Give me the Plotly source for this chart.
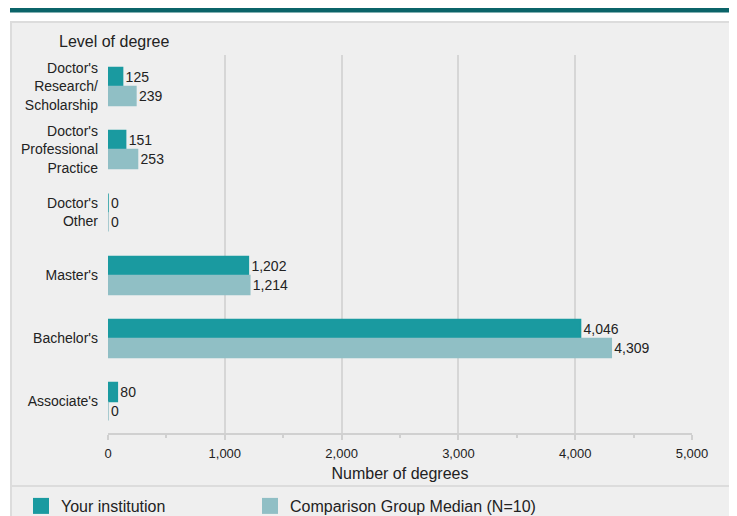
import plotly.graph_objects as go

categories = ["Doctor's<br>Research/<br>Scholarship", "Doctor's<br>Professional<br>Practice",
              "Doctor's<br>Other", "Master's", "Bachelor's", "Associate's"]
your_institution = [125, 151, 0, 1202, 4046, 80]
comparison_median = [239, 253, 0, 1214, 4309, 0]
series_names = ["Your institution", "Comparison Group Median (N=10)"]
x_ticks = [0, 1000, 2000, 3000, 4000, 5000]

teal = "#1a9aa0"
light = "#90bfc5"
font = "Liberation Sans, Arial, sans-serif"

# page has an 8px body margin; figure coordinates = screen - 8
OFF = 8
W, H = 729, 508
L, T = 108 - OFF, 55 - OFF
PLOT_W, PLOT_BOTTOM = 584, 433 - OFF
R = W - L - PLOT_W
B = H - PLOT_BOTTOM
plot_h = PLOT_BOTTOM - T

def px(xs):
    return (xs - OFF - L) / PLOT_W

def py(ys):
    return (PLOT_BOTTOM - (ys - OFF)) / plot_h

fig = go.Figure()
for name, vals, col, leg in [(series_names[0], your_institution, teal, "legend"),
                             (series_names[1], comparison_median, light, "legend2")]:
    fig.add_trace(go.Bar(
        y=categories, x=vals, orientation="h", name=name, showlegend=False,
        marker=dict(color=col, line=dict(width=1.5, color=col)),
        text=[f"{v:,}" for v in vals], textposition="outside",
        textfont=dict(size=14, color="#222", family=font),
        cliponaxis=False,
    ))
    # legend entry with a larger square swatch
    fig.add_trace(go.Scatter(
        x=[None], y=[None], mode="markers", name=name, legend=leg, showlegend=True,
        marker=dict(symbol="square", size=16, color=col, line=dict(width=0)),
        hoverinfo="skip",
    ))

leg_common = dict(orientation="h", xanchor="left", y=py(489), yanchor="top",
                  font=dict(size=16, color="#222"), bgcolor="rgba(0,0,0,0)",
                  itemsizing="trace", borderwidth=0)

fig.update_layout(
    width=W, height=H,
    margin=dict(l=L, r=R, t=T, b=B, autoexpand=False),
    paper_bgcolor="white", plot_bgcolor="rgba(0,0,0,0)",
    barmode="group", bargap=0.40, bargroupgap=0,
    font=dict(family=font, size=14, color="#222"),
    showlegend=True,
    legend=dict(x=px(21), **leg_common),
    legend2=dict(x=px(250), **leg_common),
    xaxis=dict(range=[0, 5000], tickvals=x_ticks, tickformat=",", showgrid=True,
               gridcolor="#d6d6d6", gridwidth=2, zeroline=False,
               showline=True, linecolor="#d0d0d0", linewidth=2,
               ticks="outside", ticklen=5, tickcolor="#d0d0d0", tickwidth=2,
               minor=dict(dtick=500, ticks="outside", ticklen=3, tickcolor="#d0d0d0", showgrid=False),
               tickfont=dict(size=13), ticklabelstandoff=2,
               title=dict(text="Number of degrees", font=dict(size=16), standoff=8),
               fixedrange=True),
    yaxis=dict(autorange="reversed", showgrid=False, zeroline=False, showline=False,
               ticks="", ticklabelstandoff=9, tickfont=dict(size=14), fixedrange=True),
    shapes=[
        dict(type="rect", xref="paper", yref="paper", x0=px(11), x1=px(733), y0=py(540), y1=py(22),
             fillcolor="#efefef", line=dict(color="#dcdcdc", width=2), layer="below"),
        dict(type="rect", xref="paper", yref="paper", x0=px(10), x1=px(745), y0=py(12.5), y1=py(6.5),
             fillcolor="#0b6469", line=dict(width=0), layer="below"),
        dict(type="line", xref="paper", yref="paper", x0=px(11), x1=px(733), y0=py(486), y1=py(486),
             line=dict(color="#dcdcdc", width=2), layer="below"),
    ],
)
fig.add_annotation(text="Level of degree", xref="paper", yref="paper", x=px(57), y=py(41),
                   xanchor="left", yanchor="middle", showarrow=False, font=dict(size=16, color="#222"))

fig.write_html("out.html")
